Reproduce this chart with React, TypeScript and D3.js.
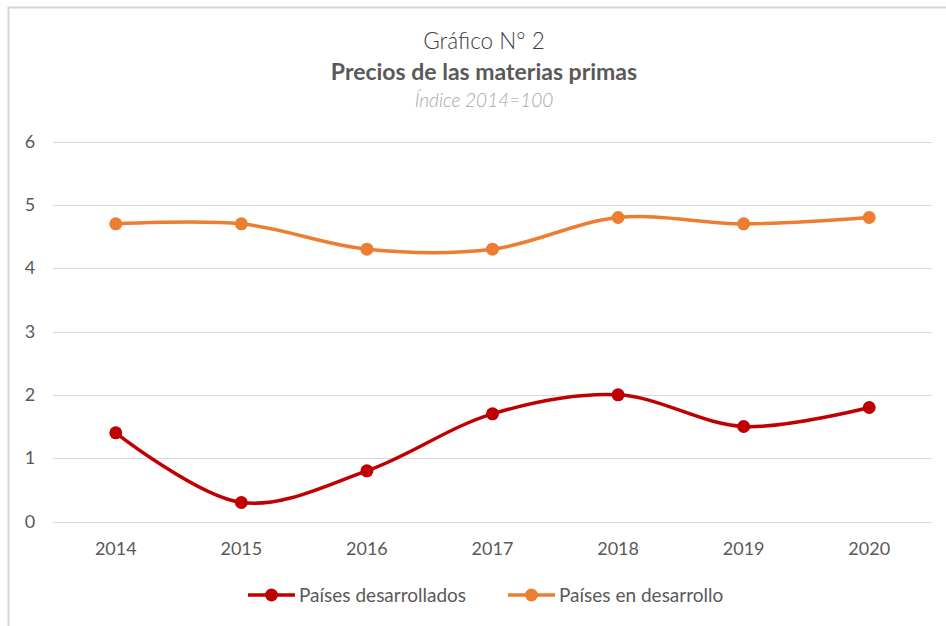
import { useEffect, useRef } from "react";
import * as d3 from "d3";

const YEARS = ["2014", "2015", "2016", "2017", "2018", "2019", "2020"];
const DESARROLLADOS = [1.4, 0.3, 0.8, 1.7, 2.0, 1.5, 1.8];
const EN_DESARROLLO = [4.7, 4.7, 4.3, 4.3, 4.8, 4.7, 4.8];
const Y_TICKS = [0, 1, 2, 3, 4, 5, 6];

const SERIES = [
  { name: "Países desarrollados", values: DESARROLLADOS, color: "#C00000" },
  { name: "Países en desarrollo", values: EN_DESARROLLO, color: "#ED7D31" },
];

const W = 946;
const H = 626;
const FONT = "Lato, 'Open Sans', sans-serif";

export default function App(): JSX.Element {
  const svgRef = useRef<SVGSVGElement | null>(null);

  useEffect(() => {
    document.body.style.margin = "0";
    if (!svgRef.current) return;
    const svg = d3.select(svgRef.current);
    svg.selectAll("*").remove();

    svg.append("rect").attr("width", W).attr("height", H).attr("fill", "#fff");
    // chart frame, cropped on the right/bottom in the reference
    svg
      .append("rect")
      .attr("x", 8.5)
      .attr("y", 7.5)
      .attr("width", 1000)
      .attr("height", 1000)
      .attr("fill", "none")
      .attr("stroke", "#d6d6d6")
      .attr("stroke-width", 2);

    // titles
    const cx = 484;
    svg
      .append("text")
      .attr("x", cx)
      .attr("y", 49)
      .attr("text-anchor", "middle")
      .attr("font-family", FONT)
      .attr("font-size", 22.5)
      .attr("font-weight", 300)
      .attr("fill", "#404040")
      .text("Gráfico N° 2");
    svg
      .append("text")
      .attr("x", cx)
      .attr("y", 80)
      .attr("text-anchor", "middle")
      .attr("font-family", FONT)
      .attr("font-size", 23)
      .attr("font-weight", 700)
      .attr("fill", "#595959")
      .text("Precios de las materias primas");
    svg
      .append("text")
      .attr("x", cx)
      .attr("y", 107)
      .attr("text-anchor", "middle")
      .attr("font-family", FONT)
      .attr("font-size", 19)
      .attr("font-weight", 300)
      .attr("font-style", "italic")
      .attr("fill", "#a6a6a6")
      .text("Índice 2014=100");

    const x = d3.scalePoint<string>().domain(YEARS).range([53, 932]).padding(0.5);
    const y = d3.scaleLinear().domain([0, 6]).range([521.5, 141.5]);

    // gridlines
    svg
      .append("g")
      .selectAll("line")
      .data(Y_TICKS)
      .join("line")
      .attr("x1", 53)
      .attr("x2", 932)
      .attr("y1", (d) => Math.round(y(d)) + 0.5)
      .attr("y2", (d) => Math.round(y(d)) + 0.5)
      .attr("stroke", "#d9d9d9")
      .attr("stroke-width", 1);

    // y labels
    svg
      .append("g")
      .selectAll("text")
      .data(Y_TICKS)
      .join("text")
      .attr("x", 30)
      .attr("y", (d) => y(d))
      .attr("dy", "0.35em")
      .attr("text-anchor", "middle")
      .attr("font-family", FONT)
      .attr("font-size", 18)
      .attr("fill", "#595959")
      .text((d) => String(d));

    // x labels
    svg
      .append("g")
      .selectAll("text")
      .data(YEARS)
      .join("text")
      .attr("x", (d) => x(d) ?? 0)
      .attr("y", 555)
      .attr("text-anchor", "middle")
      .attr("font-family", FONT)
      .attr("font-size", 18)
      .attr("fill", "#595959")
      .text((d) => d);

    const line = d3
      .line<number>()
      .x((_, i) => x(YEARS[i]) ?? 0)
      .y((d) => y(d))
      .curve(d3.curveCatmullRom.alpha(0.5));

    SERIES.forEach((s) => {
      const g = svg.append("g");
      g.append("path")
        .attr("d", line(s.values))
        .attr("fill", "none")
        .attr("stroke", s.color)
        .attr("stroke-width", 3.5)
        .attr("stroke-linecap", "round");
      g.selectAll("circle")
        .data(s.values)
        .join("circle")
        .attr("cx", (_, i) => x(YEARS[i]) ?? 0)
        .attr("cy", (d) => y(d))
        .attr("r", 6.5)
        .attr("fill", s.color);
    });

    // legend
    const legendX = [248, 508];
    SERIES.forEach((s, i) => {
      const g = svg.append("g").attr("transform", `translate(${legendX[i]},595)`);
      g.append("line")
        .attr("x1", 0)
        .attr("x2", 47)
        .attr("stroke", s.color)
        .attr("stroke-width", 3.5);
      g.append("circle").attr("cx", 23.5).attr("r", 6.5).attr("fill", s.color);
      g.append("text")
        .attr("x", 51)
        .attr("dy", "0.35em")
        .attr("font-family", FONT)
        .attr("font-size", 19)
        .attr("fill", "#595959")
        .text(s.name);
    });
  }, []);

  return <svg ref={svgRef} width={W} height={H} style={{ display: "block" }} />;
}
